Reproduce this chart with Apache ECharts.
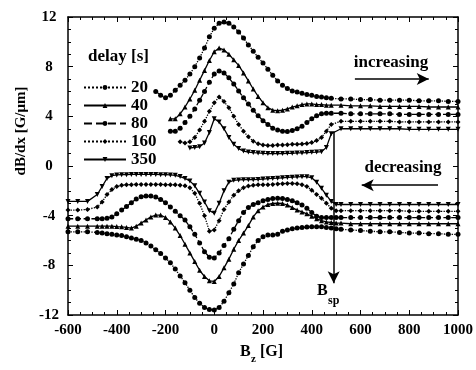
<!DOCTYPE html>
<html>
<head>
<meta charset="utf-8">
<script src="https://cdn.jsdelivr.net/npm/echarts@6/dist/echarts.min.js"></script>
<style>
  html, body { margin: 0; padding: 0; background: #fff; }
  #chart { width: 476px; height: 370px; }
</style>
</head>
<body>
<div id="chart"></div>
<script>
// delays in the legend
const delays = ['20', '40', '80', '160', '350'];

// field grid for the "increasing" sweep
const xUp = [
  -240, -220, -200, -180, -160, -140, -120, -100, -80, -60,
  -40, -20, 0, 20, 40, 60, 80, 100, 120, 140,
  160, 180, 200, 220, 240, 260, 280, 300, 320, 340,
  360, 380, 400, 420, 440, 460, 480,
  520, 560, 600, 640, 680, 720, 760, 800, 840, 880, 920, 960, 1000
];
const up20 = [
  6.0, 5.7, 5.5, 5.7, 6.1, 6.5, 6.9, 7.4, 8.0, 8.7,
  9.5, 10.4, 11.1, 11.5, 11.6, 11.5, 11.2, 10.8, 10.3, 9.75,
  9.25, 8.75, 8.3, 7.8, 7.3, 6.85, 6.5, 6.25, 6.05, 5.95,
  5.85, 5.75, 5.7, 5.6, 5.55, 5.5, 5.45,
  5.4, 5.4, 5.35, 5.35, 5.3, 5.3, 5.3, 5.3, 5.25, 5.25, 5.25, 5.2, 5.2
];
const up40 = [
  null, null, null, 3.8, 3.8, 4.2, 4.75, 5.4, 6.1, 6.9,
  7.7, 8.5, 9.2, 9.5, 9.35, 9.0, 8.55, 8.1, 7.5, 6.85,
  6.2, 5.6, 5.1, 4.7, 4.5, 4.45, 4.5, 4.6, 4.75, 4.85,
  4.95, 5.0, 5.0, 4.95, 4.95, 4.9, 4.9,
  4.9, 4.85, 4.85, 4.85, 4.8, 4.8, 4.8, 4.8, 4.8, 4.75, 4.75, 4.75, 4.75
];
const up80 = [
  null, null, null, 2.8, 2.8, 3.05, 3.5, 4.0, 4.6, 5.3,
  6.0, 6.75, 7.4, 7.65, 7.5, 7.1, 6.6, 6.05, 5.5, 5.0,
  4.5, 4.05, 3.65, 3.35, 3.05, 2.9, 2.8, 2.78, 2.85, 3.0,
  3.2, 3.5, 3.8, 4.05, 4.2, 4.25, 4.25,
  4.25, 4.2, 4.2, 4.2, 4.2, 4.2, 4.15, 4.15, 4.15, 4.15, 4.15, 4.15, 4.15
];
const up160 = [
  null, null, null, null, null, 1.95, 1.85, 1.95, 2.3, 2.9,
  3.6, 4.4, 5.1, 5.55, 5.2, 4.7, 4.0, 3.35, 2.8, 2.35,
  2.0, 1.8, 1.7, 1.65, 1.65, 1.7, 1.7, 1.72, 1.75, 1.75,
  1.78, 1.82, 1.9, 2.05, 2.3, 2.8, 3.35,
  3.6, 3.6, 3.6, 3.6, 3.6, 3.6, 3.55, 3.55, 3.55, 3.55, 3.55, 3.55, 3.55
];
const up350 = [
  null, null, null, null, null, null, null, 1.45, 1.5, 1.55,
  1.85, 2.7, 3.8, 3.55, 3.0, 2.3, 1.75, 1.4, 1.2, 1.12,
  1.08, 1.05, 1.02, 1.0, 1.0, 1.0, 1.0, 1.02, 1.02, 1.05,
  1.05, 1.08, 1.1, 1.12, 1.15, 1.5, 2.6,
  3.0, 3.0, 3.0, 3.0, 3.0, 3.0, 3.0, 2.95, 2.95, 2.95, 2.95, 2.95, 2.95
];

// field grid for the "decreasing" sweep
const xDown = [
  -600, -560, -520,
  -480, -460, -440, -420, -400, -380, -360, -340, -320, -300,
  -280, -260, -240, -220, -200, -180, -160, -140, -120, -100,
  -80, -60, -40, -20, 0, 20, 40, 60, 80, 100,
  120, 140, 160, 180, 200, 220, 240, 260, 280, 300,
  320, 340, 360, 380, 400, 420, 440, 460, 480, 500,
  520, 560, 600, 640, 680, 720, 760, 800, 840, 880, 920, 960, 1000
];
const down350 = [
  -2.85, -2.85, -2.85,
  -2.3, -1.65, -1.0, -0.78, -0.72, -0.7, -0.7, -0.68, -0.68, -0.68,
  -0.68, -0.68, -0.68, -0.7, -0.7, -0.72, -0.75, -0.85, -1.0, -1.2,
  -1.6, -2.2, -2.9, -3.6, -3.8, -3.0, -2.0, -1.3, -1.15, -1.12,
  -1.1, -1.1, -1.1, -1.08, -1.05, -1.02, -1.0, -0.98, -0.95, -0.92,
  -0.9, -0.88, -0.86, -0.86, -0.95, -1.3, -1.8, -2.35, -2.85, -3.1,
  -3.1, -3.1, -3.1, -3.1, -3.1, -3.1, -3.1, -3.1, -3.1, -3.1, -3.1, -3.1, -3.1
];
const down160 = [
  -3.55, -3.55, -3.5,
  -3.3, -2.9, -2.3, -1.9, -1.65, -1.55, -1.5, -1.5, -1.48, -1.48,
  -1.48, -1.48, -1.48, -1.48, -1.5, -1.5, -1.52, -1.55, -1.6, -1.75,
  -2.2, -3.0, -4.0, -5.25, -5.15, -4.4, -3.5, -2.9, -2.35, -2.0,
  -1.75, -1.62, -1.55, -1.52, -1.5, -1.5, -1.48, -1.45, -1.42, -1.4,
  -1.4, -1.42, -1.5, -1.65, -1.95, -2.3, -2.6, -3.0, -3.4, -3.6,
  -3.6, -3.6, -3.6, -3.6, -3.6, -3.6, -3.6, -3.65, -3.65, -3.65, -3.65, -3.65, -3.65
];
const down80 = [
  -4.25, -4.25, -4.25,
  -4.25, -4.25, -4.2, -4.1, -3.85, -3.55, -3.27, -2.95, -2.65, -2.47,
  -2.42, -2.42, -2.5, -2.7, -2.95, -3.3, -3.65, -4.0, -4.35, -4.9,
  -5.5, -6.2, -6.9, -7.35, -7.4, -7.0, -6.4, -5.85, -5.1, -4.4,
  -3.75, -3.35, -3.1, -2.95, -2.8, -2.7, -2.62, -2.6, -2.62, -2.7,
  -2.8, -2.95, -3.15, -3.4, -3.75, -4.05, -4.15, -4.15, -4.15, -4.15,
  -4.15, -4.15, -4.15, -4.15, -4.15, -4.15, -4.15, -4.15, -4.15, -4.15, -4.15, -4.15, -4.15
];
const down40 = [
  -4.85, -4.85, -4.85,
  -4.85, -4.85, -4.85, -4.85, -4.88, -4.9, -4.95, -5.0, -4.85, -4.6,
  -4.35, -4.1, -3.95, -3.95, -4.15, -4.5, -5.0, -5.6, -6.3, -7.0,
  -7.7, -8.4, -8.9, -9.25, -9.3, -8.9, -8.2, -7.5, -6.7, -6.0,
  -5.4, -4.8, -4.1, -3.6, -3.3, -3.1, -3.02, -3.0, -3.02, -3.15,
  -3.35, -3.55, -3.7, -3.85, -4.05, -4.25, -4.4, -4.5, -4.55, -4.6,
  -4.6, -4.65, -4.65, -4.65, -4.65, -4.65, -4.65, -4.65, -4.65, -4.65, -4.65, -4.65, -4.65
];
const down20 = [
  -5.3, -5.3, -5.3,
  -5.35, -5.4, -5.45, -5.5, -5.55, -5.6, -5.7, -5.8, -5.9, -6.0,
  -6.2, -6.45, -6.75, -7.05, -7.4, -7.8, -8.3, -8.85, -9.4, -10.0,
  -10.6, -11.05, -11.4, -11.55, -11.6, -11.4, -10.9, -10.2, -9.5, -8.6,
  -7.9, -7.2, -6.5, -6.0, -5.7, -5.55, -5.55, -5.5, -5.25, -5.15,
  -5.05, -5.0, -4.95, -4.92, -4.9, -4.9, -4.9, -4.95, -5.0, -5.05,
  -5.1, -5.15, -5.2, -5.25, -5.3, -5.3, -5.35, -5.4, -5.4, -5.45, -5.45, -5.5, -5.5
];

// annotation anchors (field, gradient)
const bsp = 490;
const bspArrow = [2.8, -9.45];
const incArrow = [[577, 7.0], [880, 7.0]];
const decArrow = [[918, -1.55], [605, -1.55]];

const upSets = { '20': up20, '40': up40, '80': up80, '160': up160, '350': up350 };
const downSets = { '20': down20, '40': down40, '80': down80, '160': down160, '350': down350 };

const marks = {
  '20':  { symbol: 'circle',   rotate: 0,   line: 'dotted' },
  '40':  { symbol: 'triangle', rotate: 0,   line: 'solid' },
  '80':  { symbol: 'circle',   rotate: 0,   line: 'dashed' },
  '160': { symbol: 'diamond',  rotate: 0,   line: 'dotted' },
  '350': { symbol: 'triangle', rotate: 180, line: 'solid' }
};

const font = 'Liberation Serif';

function pairs(xs, ys) {
  const out = [];
  xs.forEach((x, i) => { if (ys[i] !== null) out.push([x, ys[i]]); });
  return out;
}

function makeSeries(name, data) {
  const m = marks[name];
  return {
    name,
    type: 'line',
    data,
    symbol: m.symbol,
    symbolSize: 5,
    symbolRotate: m.rotate,
    showAllSymbol: true,
    lineStyle: { color: '#000', width: 1.3, type: m.line },
    itemStyle: { color: '#000' },
    silent: true
  };
}

const series = [];
delays.forEach(d => series.push(makeSeries(d, pairs(xUp, upSets[d]))));
delays.forEach(d => series.push(makeSeries(d, pairs(xDown, downSets[d]))));

series.push({
  type: 'line',
  data: [],
  silent: true,
  markLine: {
    silent: true,
    symbol: ['none', 'arrow'],
    symbolSize: [9, 12],
    label: { show: false },
    lineStyle: { color: '#000', width: 1.5, type: 'solid' },
    data: [
      [{ coord: [bsp, bspArrow[0]] }, { coord: [bsp, bspArrow[1]] }],
      [{ coord: incArrow[0] }, { coord: incArrow[1] }],
      [{ coord: decArrow[0] }, { coord: decArrow[1] }]
    ]
  }
});

const tickLabel = { color: '#000', fontFamily: font, fontWeight: 'bold', fontSize: 15 };

function frameAxis(extra) {
  return Object.assign({
    type: 'value',
    axisLine: { onZero: false, lineStyle: { color: '#000', width: 1.5 } },
    axisTick: { inside: true, length: 5, lineStyle: { color: '#000' } },
    minorTick: { show: true, splitNumber: 4, length: 3, lineStyle: { color: '#000' } },
    splitLine: { show: false }
  }, extra);
}

const chart = echarts.init(document.getElementById('chart'));
chart.setOption({
  animation: false,
  backgroundColor: '#fff',
  grid: { left: 68, right: 18, top: 17, bottom: 55 },
  legend: {
    data: delays,
    orient: 'vertical',
    left: 78,
    top: 74,
    itemWidth: 42,
    itemHeight: 6,
    itemGap: 1,
    textStyle: { color: '#000', fontFamily: font, fontWeight: 'bold', fontSize: 17, lineHeight: 16 },
    selectedMode: false
  },
  xAxis: [
    frameAxis({ min: -600, max: 1000, interval: 200,
      axisLabel: Object.assign({ margin: 8, formatter: v => String(v) }, tickLabel) }),
    frameAxis({ position: 'top', min: -600, max: 1000, interval: 200, axisLabel: { show: false } })
  ],
  yAxis: [
    frameAxis({ min: -12, max: 12, interval: 4,
      axisLabel: Object.assign({ margin: 19, align: 'center' }, tickLabel) }),
    frameAxis({ position: 'right', min: -12, max: 12, interval: 4, axisLabel: { show: false } })
  ],
  graphic: [
    { type: 'text', left: 88, top: 48,
      style: { text: 'delay [s]', fill: '#000', font: 'bold 17px "Liberation Serif"' } },
    { type: 'text', x: 391, y: 63,
      style: { text: 'increasing', fill: '#000', font: 'bold 17px "Liberation Serif"', align: 'center', verticalAlign: 'middle' } },
    { type: 'text', x: 403, y: 168,
      style: { text: 'decreasing', fill: '#000', font: 'bold 17px "Liberation Serif"', align: 'center', verticalAlign: 'middle' } },
    { type: 'text', x: 317, y: 291,
      style: { text: 'B', fill: '#000', font: 'bold 16px "Liberation Serif"', verticalAlign: 'middle' } },
    { type: 'text', x: 328, y: 301,
      style: { text: 'sp', fill: '#000', font: 'bold 12px "Liberation Serif"', verticalAlign: 'middle' } },
    { type: 'text', x: 240, y: 352,
      style: { text: 'B', fill: '#000', font: 'bold 16px "Liberation Serif"', verticalAlign: 'middle' } },
    { type: 'text', x: 251, y: 359,
      style: { text: 'z', fill: '#000', font: 'bold 11px "Liberation Serif"', verticalAlign: 'middle' } },
    { type: 'text', x: 260, y: 352,
      style: { text: '[G]', fill: '#000', font: 'bold 16px "Liberation Serif"', verticalAlign: 'middle' } },
    { type: 'text', x: 21, y: 131, rotation: Math.PI / 2,
      style: { text: 'dB/dx [G/\u03bcm]', fill: '#000', font: 'bold 15px "Liberation Serif"', align: 'center', verticalAlign: 'middle' } }
  ],
  series
});
</script>
</body>
</html>
